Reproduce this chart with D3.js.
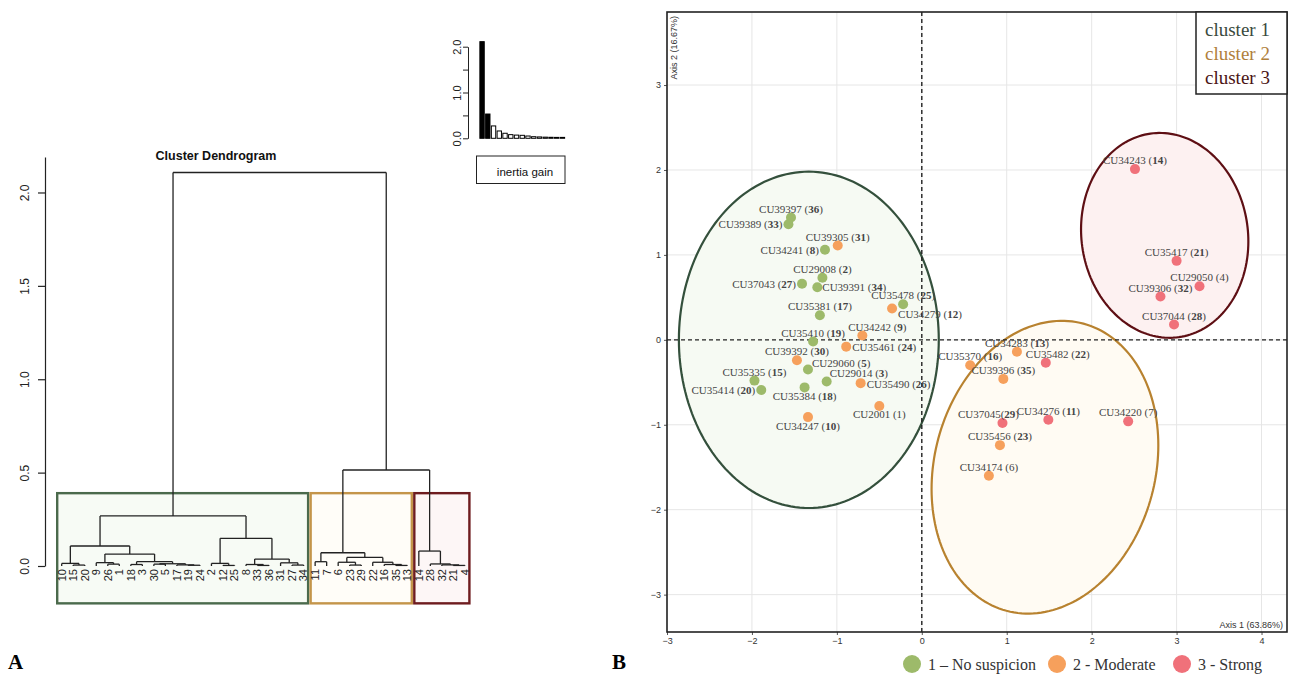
<!DOCTYPE html>
<html>
<head>
<meta charset="utf-8">
<script src="https://cdn.jsdelivr.net/npm/d3@7"></script>
<style>
  body { margin: 0; background: #fff; }
  svg { display: block; }
</style>
</head>
<body>
<script>
// ---------- panel A : hierarchical clustering ----------
// nested merges: [height, left, right]; numbers are leaves
var tree = [2.107,
  [0.268,
    [0.107,
      [0.014, 10, [0.005, 15, 20]],
      [0.064,
        [0.018, 9, [0.010, 26, 1]],
        [0.023, [0.008, 18, 3], [0.012, [0.010, 30, 5], [0.006, 17, [0.004, 19, 24]]]]]],
    [0.148,
      [0.014, 2, [0.003, 12, 25]],
      [0.037, [0.008, 8, [0.003, 33, 36]], [0.017, 31, [0.005, 27, 34]]]]],
  [0.514,
    [0.071,
      [0.023, 11, 7],
      [0.046, [0.020, 6, [0.005, 23, 29]], [0.020, 22, [0.008, 16, [0.003, 35, 13]]]]],
    [0.080, 14, [0.011, 28, [0.006, 32, [0.003, 21, 4]]]]]];

var clusterMembers = [
  [10, 15, 20, 9, 26, 1, 18, 3, 30, 5, 17, 19, 24, 2, 12, 25, 8, 33, 36, 31, 27, 34],
  [11, 7, 6, 23, 29, 22, 16, 35, 13],
  [14, 28, 32, 21, 4]
];
var inertiaGain = [2.11, 0.53, 0.27, 0.16, 0.11, 0.08, 0.07, 0.065, 0.05, 0.035, 0.03, 0.025, 0.022, 0.02, 0.02];
var dendroTicks = [0, 0.5, 1, 1.5, 2];
var gainTicks = [0, 0.5, 1, 1.5, 2];

// ---------- panel B : factor map ----------
var nums      = [1, 2, 3, 4, 5, 6, 7, 8, 9, 10, 11, 12, 13, 14, 15, 16, 17, 18, 19, 20, 21, 22, 23, 24, 25, 26, 27, 28, 29, 30, 31, 32, 33, 34, 35, 36];
var codes     = ["CU2001", "CU29008", "CU29014", "CU29050", "CU29060", "CU34174", "CU34220", "CU34241", "CU34242", "CU34247",
                 "CU34276", "CU34279", "CU34283", "CU34243", "CU35335", "CU35370", "CU35381", "CU35384", "CU35410", "CU35414",
                 "CU35417", "CU35482", "CU35456", "CU35461", "CU35478", "CU35490", "CU37043", "CU37044", "CU37045", "CU39392",
                 "CU39305", "CU39306", "CU39389", "CU39391", "CU39396", "CU39397"];
var axis1     = [-0.50, -1.17, -1.12, 3.27, -1.34, 0.79, 2.43, -1.14, -0.70, -1.34,
                 1.49, -0.35, 1.12, 2.51, -1.97, 0.57, -1.20, -1.38, -1.28, -1.89,
                 3.00, 1.46, 0.92, -0.89, -0.22, -0.72, -1.41, 2.97, 0.95, -1.47,
                 -0.99, 2.81, -1.57, -1.23, 0.96, -1.54];
var axis2     = [-0.78, 0.73, -0.49, 0.63, -0.35, -1.60, -0.96, 1.06, 0.05, -0.91,
                 -0.94, 0.37, -0.14, 2.01, -0.48, -0.30, 0.29, -0.56, -0.02, -0.59,
                 0.93, -0.27, -1.24, -0.08, 0.42, -0.51, 0.66, 0.18, -0.98, -0.24,
                 1.11, 0.51, 1.36, 0.62, -0.46, 1.44];
var suspicion = [2, 1, 1, 3, 1, 2, 3, 1, 2, 2,
                 3, 2, 2, 3, 1, 2, 1, 1, 1, 1,
                 3, 3, 2, 2, 1, 2, 1, 3, 3, 2,
                 2, 3, 1, 1, 2, 1];
var suspicionNames = ["1 \u2013 No suspicion", "2 - Moderate", "3 - Strong"];
var clusterNames = ["cluster 1", "cluster 2", "cluster 3"];
var axisTicksX = [-3, -2, -1, 0, 1, 2, 3, 4];
var axisTicksY = [-3, -2, -1, 0, 1, 2, 3];
// confidence ellipses, data units: centre, semi-axes, tilt (deg)
var ellCx = [-1.33, 1.45, 2.86];
var ellCy = [0.0, -1.50, 1.23];
var ellRx = [1.53, 1.30, 0.98];
var ellRy = [1.98, 1.75, 1.21];
var ellAngle = [0, -15, 8];

// label placement [anchor, dx, dy]
var above = ["middle", 0, -5];
var labelPlace = {
  33: ["end", -6, 4], 8: ["end", -6, 4], 27: ["end", -6, 4], 34: ["start", 5, 4],
  12: ["start", 6, 10], 9: ["middle", 15, -5], 24: ["start", 6, 4], 5: ["start", 4, -3],
  3: ["start", 3, -4], 26: ["start", 6, 5], 20: ["end", -6, 4], 18: ["middle", 0, 13],
  1: ["middle", 0, 12], 10: ["middle", 0, 13], 22: ["middle", 12, -5], 29: ["middle", -14, -5]
};
var plainNums = [1, 4, 6, 7];

// ---------- styles ----------
var pointColor = ["#9dba6a", "#f6a05c", "#f0717a"];
var clusterStroke = ["#34503c", "#b8822f", "#5e0f14"];
var clusterFill = ["#f6faf3", "#fffbf3", "#fdf1f1"];
var legendText = ["#3a4a3e", "#b0803c", "#4a1414"];
var rectStroke = ["#4b6a4c", "#c4954a", "#6e1c1f"];
var rectFill = ["#f7fbf5", "#fffdf8", "#fdf6f6"];

var svg = d3.select("body").append("svg")
    .attr("width", 1290)
    .attr("height", 675)
    .style("font-family", "'Liberation Sans', Arial, sans-serif");

svg.append("rect").attr("width", 1290).attr("height", 675).attr("fill", "#fff");

// ================= panel A =================
var leafOrder = [];
(function walk(n) { if (typeof n === "number") leafOrder.push(n); else { walk(n[1]); walk(n[2]); } })(tree);

var xLeaf = d3.scalePoint().domain(leafOrder).range([61.7, 464.9]);
var yD = d3.scaleLinear().domain([0, 2.19]).range([566, 157]);

var A = svg.append("g");

// cluster rectangles
A.selectAll("rect.clu")
    .data(clusterMembers)
  .enter().append("rect")
    .attr("class", "clu")
    .attr("x", function(d) { return xLeaf(d[0]) - 4.5; })
    .attr("y", yD(0.39))
    .attr("width", function(d) { return xLeaf(d[d.length - 1]) - xLeaf(d[0]) + 9; })
    .attr("height", yD(-0.2) - yD(0.39))
    .attr("fill", function(d, i) { return rectFill[i]; })
    .attr("stroke", function(d, i) { return rectStroke[i]; })
    .attr("stroke-width", 2.4);

// dendrogram segments
var segs = [];
function layout(n) {
  if (typeof n === "number") return { x: xLeaf(n), h: 0 };
  var a = layout(n[1]), b = layout(n[2]);
  segs.push([a.x, n[0], b.x, n[0]]);
  segs.push([a.x, n[0], a.x, a.h]);
  segs.push([b.x, n[0], b.x, b.h]);
  return { x: (a.x + b.x) / 2, h: n[0] };
}
layout(tree);

A.append("g").selectAll("line")
    .data(segs)
  .enter().append("line")
    .attr("x1", function(d) { return d[0]; })
    .attr("y1", function(d) { return yD(d[1]); })
    .attr("x2", function(d) { return d[2]; })
    .attr("y2", function(d) { return yD(d[3]); })
    .attr("stroke", "#222")
    .attr("stroke-width", 1.3);

// leaf labels
A.append("g").selectAll("text")
    .data(leafOrder)
  .enter().append("text")
    .attr("transform", function(d) { return "translate(" + xLeaf(d) + ",569) rotate(-90)"; })
    .attr("text-anchor", "end")
    .attr("dy", "0.35em")
    .attr("font-size", 11)
    .attr("fill", "#222")
    .text(function(d) { return d; });

// y axis
var yAxisD = A.append("g")
    .attr("transform", "translate(45,0)")
    .call(d3.axisLeft(yD).tickValues(dendroTicks).tickSize(7).tickSizeOuter(0).tickFormat(d3.format(".1f")));
yAxisD.select(".domain").attr("stroke", "#222").attr("stroke-width", 1.2);
yAxisD.selectAll(".tick line").attr("stroke", "#222").attr("stroke-width", 1.2);
yAxisD.selectAll(".tick text")
    .attr("font-size", 12)
    .attr("fill", "#222")
    .attr("font-family", "'Liberation Sans', Arial, sans-serif")
    .attr("text-anchor", "middle")
    .attr("transform", "translate(-20,0) rotate(-90)")
    .attr("x", 0)
    .attr("dy", "0.35em");

A.append("text")
    .attr("x", 216)
    .attr("y", 160)
    .attr("text-anchor", "middle")
    .attr("font-size", 12.5)
    .attr("font-weight", "bold")
    .attr("fill", "#111")
    .text("Cluster Dendrogram");

// inertia gain inset
var xG = d3.scaleBand().domain(d3.range(inertiaGain.length)).range([478.5, 566]).padding(0.24);
var yG = d3.scaleLinear().domain([0, 2]).range([138.3, 46.7]);

A.append("g").selectAll("rect")
    .data(inertiaGain)
  .enter().append("rect")
    .attr("x", function(d, i) { return xG(i); })
    .attr("y", function(d) { return yG(d); })
    .attr("width", xG.bandwidth())
    .attr("height", function(d) { return yG(0) - yG(d); })
    .attr("fill", function(d, i) { return i < 2 ? "#000" : "#fff"; })
    .attr("stroke", "#000")
    .attr("stroke-width", 1);

var gAxis = A.append("g")
    .attr("transform", "translate(468,0)")
    .call(d3.axisLeft(yG).tickValues(gainTicks).tickSize(5).tickSizeOuter(0)
      .tickFormat(function(d) { return d % 1 === 0 ? d3.format(".1f")(d) : ""; }));
gAxis.select(".domain").attr("stroke", "#222");
gAxis.selectAll(".tick line").attr("stroke", "#222");
gAxis.selectAll(".tick text")
    .attr("font-size", 11)
    .attr("fill", "#222")
    .attr("font-family", "'Liberation Sans', Arial, sans-serif")
    .attr("text-anchor", "middle")
    .attr("transform", "translate(-11,0) rotate(-90)")
    .attr("x", 0)
    .attr("dy", "0.35em");

A.append("rect")
    .attr("x", 476.5).attr("y", 156)
    .attr("width", 88.5).attr("height", 27.5)
    .attr("fill", "#fff").attr("stroke", "#222").attr("stroke-width", 1);
A.append("text")
    .attr("x", 525).attr("y", 175.5)
    .attr("text-anchor", "middle")
    .attr("font-size", 11.5)
    .attr("fill", "#111")
    .text("inertia gain");

// ================= panel B =================
var x = d3.scaleLinear().domain([-3, 4.30]).range([667, 1287]);
var y = d3.scaleLinear().domain([-3.44, 3.86]).range([632, 12]);

var B = svg.append("g");

// grid
B.append("g").selectAll("line")
    .data(axisTicksX)
  .enter().append("line")
    .attr("x1", function(d) { return x(d); }).attr("x2", function(d) { return x(d); })
    .attr("y1", y.range()[1]).attr("y2", y.range()[0])
    .attr("stroke", "#e6e6e6");
B.append("g").selectAll("line")
    .data(axisTicksY)
  .enter().append("line")
    .attr("y1", function(d) { return y(d); }).attr("y2", function(d) { return y(d); })
    .attr("x1", x.range()[0]).attr("x2", x.range()[1])
    .attr("stroke", "#e6e6e6");

// ellipses
var ellIdx = d3.range(ellCx.length);
var ellLine = d3.line().x(function(p) { return x(p[0]); }).y(function(p) { return y(p[1]); }).curve(d3.curveLinearClosed);
function ellPoints(i) {
  var a = ellAngle[i] * Math.PI / 180;
  return d3.range(0, 360, 2).map(function(t) {
    t = t * Math.PI / 180;
    var u = ellRx[i] * Math.cos(t), v = ellRy[i] * Math.sin(t);
    return [ellCx[i] + u * Math.cos(a) - v * Math.sin(a), ellCy[i] + u * Math.sin(a) + v * Math.cos(a)];
  });
}
B.append("defs").append("clipPath").attr("id", "plotclip")
  .append("rect").attr("x", 667).attr("y", 12).attr("width", 620).attr("height", 620);
B.append("g").attr("clip-path", "url(#plotclip)").selectAll("path")
    .data(ellIdx)
  .enter().append("path")
    .attr("d", function(i) { return ellLine(ellPoints(i)); })
    .attr("fill", function(i) { return clusterFill[i]; })
    .attr("stroke", function(i) { return clusterStroke[i]; })
    .attr("stroke-width", 2.2);

// zero lines
B.append("line")
    .attr("x1", x(0)).attr("x2", x(0)).attr("y1", y.range()[1]).attr("y2", y.range()[0])
    .attr("stroke", "#222").attr("stroke-width", 1.4).attr("stroke-dasharray", "4,3");
B.append("line")
    .attr("y1", y(0)).attr("y2", y(0)).attr("x1", x.range()[0]).attr("x2", x.range()[1])
    .attr("stroke", "#222").attr("stroke-width", 1.4).attr("stroke-dasharray", "4,3");

// axes
var xAx = B.append("g").attr("transform", "translate(0,632)")
    .call(d3.axisBottom(x).tickValues(axisTicksX).tickSize(3).tickSizeOuter(0));
var yAx = B.append("g").attr("transform", "translate(667,0)")
    .call(d3.axisLeft(y).tickValues(axisTicksY).tickSize(3).tickSizeOuter(0));
[xAx, yAx].forEach(function(g) {
  g.select(".domain").remove();
  g.selectAll(".tick line").attr("stroke", "#555");
  g.selectAll(".tick text").attr("font-size", 9).attr("fill", "#333")
    .attr("font-family", "'Liberation Sans', Arial, sans-serif");
});

// frame
B.append("rect")
    .attr("x", 667).attr("y", 12).attr("width", 620).attr("height", 620)
    .attr("fill", "none").attr("stroke", "#222").attr("stroke-width", 1.6);

B.append("text")
    .attr("x", 1283).attr("y", 628)
    .attr("text-anchor", "end").attr("font-size", 9).attr("fill", "#333")
    .text("Axis 1 (63.86%)");
B.append("text")
    .attr("transform", "translate(677,16) rotate(-90)")
    .attr("text-anchor", "end").attr("font-size", 9).attr("fill", "#333")
    .text("Axis 2 (16.67%)");

// points
var idx = d3.range(nums.length);
B.append("g").selectAll("circle")
    .data(idx)
  .enter().append("circle")
    .attr("cx", function(i) { return x(axis1[i]); })
    .attr("cy", function(i) { return y(axis2[i]); })
    .attr("r", 5)
    .attr("fill", function(i) { return pointColor[suspicion[i] - 1]; });

// labels
var lab = B.append("g").selectAll("text")
    .data(idx)
  .enter().append("text")
    .attr("x", function(i) { var p = labelPlace[nums[i]] || above; return x(axis1[i]) + p[1]; })
    .attr("y", function(i) { var p = labelPlace[nums[i]] || above; return y(axis2[i]) + p[2]; })
    .attr("text-anchor", function(i) { return (labelPlace[nums[i]] || above)[0]; })
    .attr("font-family", "'Liberation Serif', 'Times New Roman', serif")
    .attr("font-size", 11)
    .attr("fill", "#444");
lab.append("tspan").text(function(i) { return codes[i] + (nums[i] === 29 ? "(" : " ("); });
lab.append("tspan")
    .attr("font-weight", function(i) { return plainNums.indexOf(nums[i]) >= 0 ? "normal" : "bold"; })
    .text(function(i) { return nums[i]; });
lab.append("tspan").text(")");

// cluster legend (top right)
B.append("rect")
    .attr("x", 1196).attr("y", 12).attr("width", 91).attr("height", 82)
    .attr("fill", "#fff").attr("stroke", "#222").attr("stroke-width", 1.5);
B.append("g").selectAll("text")
    .data(clusterNames)
  .enter().append("text")
    .attr("x", 1205)
    .attr("y", function(d, i) { return 36 + i * 24; })
    .attr("font-family", "'Liberation Serif', 'Times New Roman', serif")
    .attr("font-size", 19)
    .attr("fill", function(d, i) { return legendText[i]; })
    .text(function(d) { return d; });

// suspicion legend (bottom)
var legX = [912, 1057, 1182];
var leg = B.append("g").selectAll("g")
    .data(suspicionNames)
  .enter().append("g")
    .attr("transform", function(d, i) { return "translate(" + legX[i] + ",664)"; });
leg.append("circle").attr("r", 9).attr("fill", function(d, i) { return pointColor[i]; });
leg.append("text")
    .attr("x", 16).attr("y", 6)
    .attr("font-family", "'Liberation Serif', 'Times New Roman', serif")
    .attr("font-size", 16)
    .attr("fill", "#333")
    .text(function(d) { return d; });

// panel letters
svg.append("text").attr("x", 8).attr("y", 669)
    .attr("font-family", "'Liberation Serif', 'Times New Roman', serif")
    .attr("font-size", 21).attr("font-weight", "bold").text("A");
svg.append("text").attr("x", 612).attr("y", 669)
    .attr("font-family", "'Liberation Serif', 'Times New Roman', serif")
    .attr("font-size", 21).attr("font-weight", "bold").text("B");
</script>
</body>
</html>
